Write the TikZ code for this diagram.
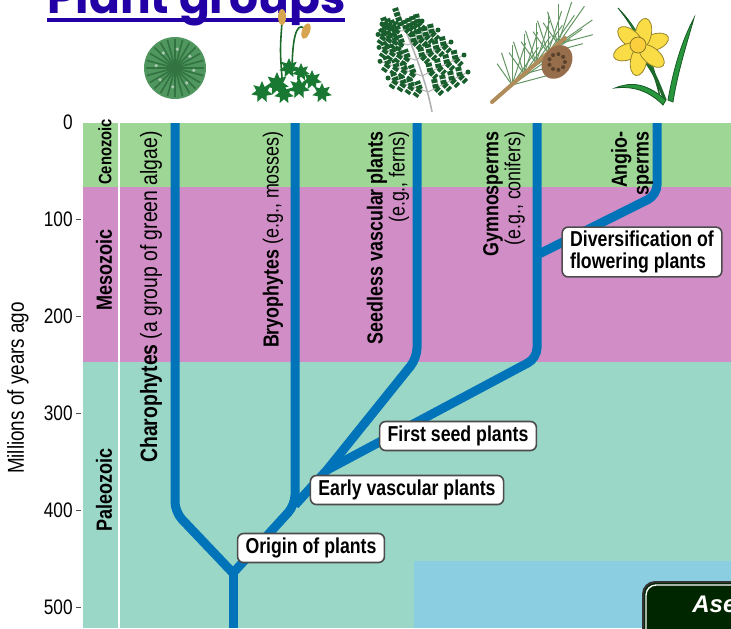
\documentclass[tikz,border=0pt]{standalone}
\usepackage{fontspec}
\setmainfont{Liberation Sans}
\newfontfamily\condfont[FakeStretch=0.82]{Liberation Sans}
\newfontfamily\titlefont{Poppins}
\usetikzlibrary{positioning,shapes.geometric}
\definecolor{ceno}{RGB}{158,214,149}
\definecolor{meso}{RGB}{209,142,198}
\definecolor{paleo}{RGB}{155,215,199}
\definecolor{celeste}{RGB}{140,206,225}
\definecolor{lineage}{RGB}{0,115,185}
\definecolor{titleblue}{RGB}{35,0,165}
\definecolor{btngreen}{RGB}{0,38,0}
\definecolor{charo}{RGB}{80,150,95}
\definecolor{charodark}{RGB}{50,115,65}
\definecolor{mossgreen}{RGB}{25,120,50}
\definecolor{capsule}{RGB}{215,165,80}
\definecolor{ferngreen}{RGB}{25,95,45}
\definecolor{twig}{RGB}{175,140,90}
\definecolor{cone}{RGB}{150,110,75}
\definecolor{needle}{RGB}{100,150,100}
\definecolor{petal}{RGB}{250,220,70}
\definecolor{leafgreen}{RGB}{40,150,60}

\begin{document}
\begin{tikzpicture}[x=0.5pt,y=-0.5pt,
era/.style={rotate=90,font=\condfont\bfseries\fontsize{11}{11}\selectfont},
group/.style={rotate=90,anchor=east,inner sep=0pt,align=right,font=\condfont\fontsize{10.9}{10.9}\selectfont},
event/.style={draw=black!70,line width=0.8pt,fill=white,rounded corners=3pt,inner xsep=4pt,inner ysep=2pt,minimum height=14.5pt,align=left,font=\condfont\bfseries\fontsize{10.8}{10.8}\selectfont},
axisnum/.style={anchor=east,inner sep=0pt,font=\condfont\fontsize{10.5}{10.5}\selectfont},
lin/.style={draw=lineage,line width=4.5pt,rounded corners=5pt},
mossleaf/.style={star,star points=7,star point ratio=1.9,fill=mossgreen,inner sep=0pt},
fernleaf/.style={draw=ferngreen,line width=3pt,dash pattern=on 2pt off 0.6pt},
pine/.style={draw=needle,line width=0.5pt},
leaf/.style={fill=leafgreen,draw=leafgreen!60!black,line width=0.4pt}
]
\useasboundingbox (0,0) rectangle (731,628);
\clip (0,0) rectangle (731,628);

% heading
\node[anchor=base west,inner sep=0pt,text=titleblue,font=\titlefont\bfseries] (title) at (47,13) {\resizebox{149pt}{!}{Plant groups}};
\draw[titleblue,line width=1.6pt] (47,20) -- (345,20);

% charophyte
\fill[charo] (175,68) circle (31);
\foreach \a in {0,15,...,345} \draw[charodark,line width=0.8pt] (175,68) -- ++(\a:29);
\foreach \a in {7,52,...,352} \fill[charo!50!white] (175,68) ++(\a:19) circle (1.8);

% moss
\draw[leafgreen!70!black,line width=0.8pt] (282,78) .. controls (280,50) .. (282,22);
\draw[leafgreen!70!black,line width=0.8pt] (292,74) .. controls (292,40) and (296,22) .. (304,28);
\fill[capsule] (282,17) ellipse (4 and 8);
\fill[capsule,rotate around={-20:(306,31)}] (306,31) ellipse (4 and 8);
\foreach \x/\y/\s [count=\i] in {262/92/11,277/84/12,289/68/10,284/94/10,299/88/11,312/80/10,322/93/10,301/72/9}
  \node[mossleaf,minimum size=\s pt] (m\i) at (\x,\y) {};

% fern
\draw[gray!60,line width=0.8pt] (432,112) .. controls (426,80) and (412,45) .. (398,12);
\foreach \x/\y/\l in {428/92/40,422/76/42,415/60/36,408/45/30,402/31/20}{
  \draw[gray!60,line width=0.5pt] (\x,\y) -- ++(-\l,{-0.35*\l});
  \draw[gray!60,line width=0.5pt] (\x,\y) -- ++(\l,{-0.5*\l});
  \foreach \f in {0.2,0.4,0.6,0.8}{
    \draw[fernleaf] (\x,\y) ++({-\f*\l},{-0.35*\f*\l}) -- ++(-3,-8);
    \draw[fernleaf] (\x,\y) ++({-\f*\l},{-0.35*\f*\l}) -- ++(-5,7);
    \draw[fernleaf] (\x,\y) ++({\f*\l},{-0.5*\f*\l}) -- ++(-2,-9);
    \draw[fernleaf] (\x,\y) ++({\f*\l},{-0.5*\f*\l}) -- ++(6,6);
  }
  \fill[ferngreen] (\x,\y) ++(-\l,{-0.35*\l}) circle (2.5);
  \fill[ferngreen] (\x,\y) ++(\l,{-0.5*\l}) circle (2.5);
}
\draw[fernleaf] (401,26) -- (395,8);

% pine
\foreach \bx/\by in {512/85,524/74,536/63,548/53,558/44}
  \foreach \a/\l in {-15/36,-35/42,-55/46,-72/44,-90/40,-108/34,-125/26}
    \draw[pine] (\bx,\by) -- ++(\a:\l);
\draw[twig,line width=2pt,line cap=round] (492,102) -- (565,38);
\fill[cone,rotate around={-35:(557,62)}] (557,62) ellipse (14 and 18);
\foreach \a in {0,40,...,320} \fill[cone!60!black] (557,62) ++(\a:8) circle (2);

% daffodil
\filldraw[leaf] (668,100) .. controls (675,60) and (685,35) .. (694,18) .. controls (688,40) and (678,70) .. (673,102) -- cycle;
\filldraw[leaf] (618,8) .. controls (632,25) and (650,55) .. (660,98) .. controls (655,58) and (636,26) .. (618,8) -- cycle;
\draw[leafgreen!70!black,line width=1.6pt] (645,60) .. controls (655,75) .. (665,100);
\filldraw[leaf] (666,100) .. controls (645,82) and (630,82) .. (615,88) .. controls (632,86) and (648,90) .. (663,105) -- cycle;
\foreach \a in {20,80,...,320}
  \filldraw[fill=petal,draw=petal!60!black,line width=0.4pt,rotate around={\a:(641,47)}] (655,47) ellipse (15 and 8);
\filldraw[fill=petal!85!orange,draw=petal!55!black,line width=0.4pt] (638,45) circle (8);

% geological eras
\fill[ceno] (83,123) rectangle (731,187);
\fill[meso] (83,187) rectangle (731,362);
\fill[paleo] (83,362) rectangle (731,628);
\fill[celeste] (414,561) rectangle (731,628);
\draw[white,line width=0.8pt] (119,123) -- (119,628);
\node[era,font=\condfont\bfseries\fontsize{9}{9}\selectfont] (cz) at (105,152) {Cenozoic};
\node[era] (mz) at (104,270) {Mesozoic};
\node[era] (pz) at (104,490) {Paleozoic};

% time axis
\node[axisnum] (t0) at (73,122) {0};
\foreach \v in {1,...,5}{
  \node[axisnum] (t\v) at (73,{122+97*\v}) {\v00};
  \draw[black!70,line width=0.5pt] (t\v.east) ++(3,0) -- ++(5,0);
}
\node[rotate=90,font=\condfont\fontsize{11.5}{11.5}\selectfont] (ytitle) at (18,388) {Millions of years ago};

% branching points
\coordinate (base) at (233,628);
\coordinate (origin) at (233,573);
\coordinate (charaBend) at (175,512);
\coordinate (charaTop) at (175,123);
\coordinate (bryoFork) at (295,505);
\coordinate (bryoTop) at (295,123);
\coordinate (vascFork) at (327,470);
\coordinate (fernBend) at (417,358);
\coordinate (fernTop) at (417,123);
\coordinate (gymBend) at (537,358);
\coordinate (gymTop) at (537,123);
\coordinate (angioFork) at (537,255);
\coordinate (angioBend) at (657,195);
\coordinate (angioTop) at (657,123);

\draw[lin] (base) -- (origin);
\draw[lin] (origin) -- (charaBend) -- (charaTop);
\draw[lin] (origin) -- (bryoFork) -- (bryoTop);
\draw[lin] (bryoFork) -- (vascFork);
\draw[lin] (vascFork) -- (fernBend) -- (fernTop);
\draw[lin] (vascFork) -- (gymBend) -- (gymTop);
\draw[lin] (angioFork) -- (angioBend) -- (angioTop);

% plant groups
\node[group,font=\condfont\fontsize{11.8}{11.8}\selectfont] (chara) at (151,131) {\textbf{Charophytes} (a group of green algae)};
\node[group] (bryo) at (273,131) {\textbf{Bryophytes} (e.g., mosses)};
\node[group] (fern) at (388,131) {\textbf{Seedless vascular plants}\\(e.g., ferns)};
\node[group] (gym) at (504,131) {\textbf{Gymnosperms}\\(e.g., conifers)};
\node[group] (angio) at (632,131) {\textbf{Angio-}\\\textbf{sperms}};

% events
\node[event] (div) at (642,252) {Diversification of\\flowering plants};
\node[event] (seed) at (458,436) {First seed plants};
\node[event] (vasc) at (407,490) {Early vascular plants};
\node[event] (orig) at (311,548) {Origin of plants};

% button
\draw[black!80,line width=1pt,fill=btngreen,rounded corners=6pt] (643,582) rectangle (780,660);
\draw[white,line width=0.7pt,rounded corners=5pt] (646,585) rectangle (777,657);
\node[anchor=base west,inner sep=0pt,text=white,font=\bfseries\itshape\fontsize{12}{12}\selectfont] (btn) at (692,612) {Ase};
\end{tikzpicture}
\end{document}
